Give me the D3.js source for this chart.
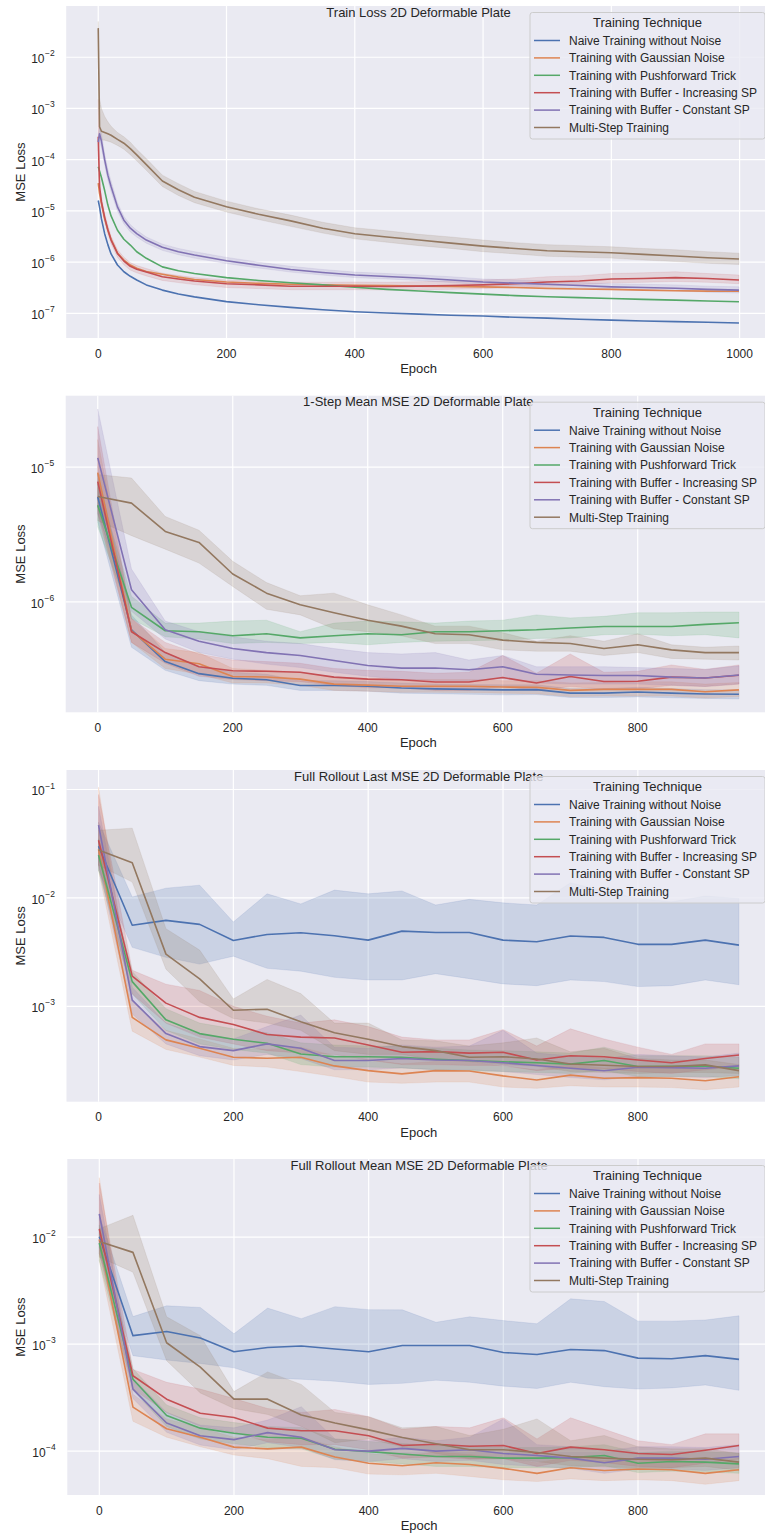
<!DOCTYPE html>
<html>
<head>
<meta charset="utf-8">
<script src="https://cdn.jsdelivr.net/npm/d3@7"></script>
<style>
body { margin: 0; background: #ffffff; overflow: hidden; }
text { font-family: "Liberation Sans", Arial, sans-serif; fill: #262626; }
</style>
</head>
<body>
<div id="chart"></div>
<script>
// legend entries and seaborn "deep" colours
var techniques = ["Naive Training without Noise", "Training with Gaussian Noise", "Training with Pushforward Trick",
    "Training with Buffer - Increasing SP", "Training with Buffer - Constant SP", "Multi-Step Training"];
var colours = ["#4c72b0", "#dd8452", "#55a868", "#c44e52", "#8172b3", "#937860"];

// ---- panel 1 : train loss ----
var trainEpochs = [0, 2, 5, 10, 15, 20, 30, 40, 50, 60, 75, 100, 125, 150, 200, 250, 300, 350, 400, 450, 500, 550, 600, 650, 700, 750, 800, 850, 900, 950, 999];
var trainLoss = [
    [1.6e-5, 1.2e-5, 7e-6, 3.6e-6, 2.2e-6, 1.45e-6, 8.8e-7, 6.5e-7, 5.3e-7, 4.5e-7, 3.6e-7, 2.85e-7, 2.4e-7, 2.1e-7, 1.7e-7, 1.48e-7, 1.31e-7, 1.18e-7, 1.08e-7, 1.02e-7, 9.7e-8, 9.2e-8, 8.9e-8, 8.4e-8, 8.1e-8, 7.7e-8, 7.4e-8, 7.1e-8, 6.9e-8, 6.7e-8, 6.5e-8],
    [3.5e-5, 2.2e-5, 1.4e-5, 7e-6, 4.2e-6, 2.8e-6, 1.5e-6, 1.1e-6, 8.8e-7, 7.6e-7, 6.6e-7, 5.8e-7, 5.1e-7, 4.6e-7, 4.1e-7, 3.85e-7, 3.7e-7, 3.62e-7, 3.55e-7, 3.5e-7, 3.41e-7, 3.35e-7, 3.3e-7, 3.2e-7, 3.08e-7, 3.0e-7, 2.94e-7, 2.85e-7, 2.77e-7, 2.72e-7, 2.7e-7],
    [7.3e-5, 6e-5, 4.5e-5, 2.5e-5, 1.3e-5, 8e-6, 4.2e-6, 2.8e-6, 2.16e-6, 1.6e-6, 1.19e-6, 8.1e-7, 6.8e-7, 6.0e-7, 5.0e-7, 4.4e-7, 3.96e-7, 3.6e-7, 3.25e-7, 2.95e-7, 2.73e-7, 2.55e-7, 2.38e-7, 2.22e-7, 2.11e-7, 2.03e-7, 1.96e-7, 1.88e-7, 1.82e-7, 1.75e-7, 1.69e-7],
    [2.8e-4, 3e-5, 1.5e-5, 7.5e-6, 4.3e-6, 2.7e-6, 1.48e-6, 1.05e-6, 8.3e-7, 7.3e-7, 6.4e-7, 5.2e-7, 4.7e-7, 4.3e-7, 3.8e-7, 3.6e-7, 3.4e-7, 3.4e-7, 3.4e-7, 3.35e-7, 3.41e-7, 3.5e-7, 3.6e-7, 3.8e-7, 4.1e-7, 4.3e-7, 4.7e-7, 4.8e-7, 5.0e-7, 4.8e-7, 4.5e-7],
    [2.2e-4, 3.2e-4, 2.3e-4, 1.0e-4, 5e-5, 3.0e-5, 1.2e-5, 6.6e-6, 4.6e-6, 3.6e-6, 2.7e-6, 1.95e-6, 1.6e-6, 1.38e-6, 1.07e-6, 8.7e-7, 7.2e-7, 6.3e-7, 5.6e-7, 5.25e-7, 4.9e-7, 4.5e-7, 4.1e-7, 3.9e-7, 3.7e-7, 3.5e-7, 3.3e-7, 3.2e-7, 3.1e-7, 2.95e-7, 2.85e-7],
    [3.7e-2, 4.4e-4, 3.6e-4, 3.4e-4, 3.2e-4, 3.0e-4, 2.5e-4, 2.1e-4, 1.65e-4, 1.24e-4, 8e-5, 3.84e-5, 2.6e-5, 1.85e-5, 1.21e-5, 8.6e-6, 6.4e-6, 4.6e-6, 3.6e-6, 3.1e-6, 2.7e-6, 2.35e-6, 2.06e-6, 1.85e-6, 1.67e-6, 1.6e-6, 1.53e-6, 1.42e-6, 1.32e-6, 1.22e-6, 1.15e-6]
];
// pale spread of the noisier runs
var trainRedLow = [1.0e-4, 2.2e-5, 1.2e-5, 6.2e-6, 3.6e-6, 2.3e-6, 1.25e-6, 8.9e-7, 7.0e-7, 6.2e-7, 5.4e-7, 4.4e-7, 4.0e-7, 3.65e-7, 3.2e-7, 3.05e-7, 2.9e-7, 2.9e-7, 2.9e-7, 2.85e-7, 2.9e-7, 2.95e-7, 3.05e-7, 3.2e-7, 3.45e-7, 3.65e-7, 3.95e-7, 4.05e-7, 4.2e-7, 4.05e-7, 3.8e-7];
var trainRedHigh = [1.5e-3, 4.5e-5, 1.9e-5, 9e-6, 5.2e-6, 3.2e-6, 1.75e-6, 1.25e-6, 9.8e-7, 8.6e-7, 7.5e-7, 6.1e-7, 5.5e-7, 5.0e-7, 4.5e-7, 4.3e-7, 4.05e-7, 4.05e-7, 4.1e-7, 4.05e-7, 4.15e-7, 4.3e-7, 4.5e-7, 4.7e-7, 5.2e-7, 5.4e-7, 6.0e-7, 6.2e-7, 6.5e-7, 6.0e-7, 5.6e-7];
var trainPurpleLow = [1.5e-4, 2.4e-4, 1.7e-4, 8e-5, 4e-5, 2.4e-5, 1.0e-5, 5.6e-6, 3.9e-6, 3.1e-6, 2.35e-6, 1.7e-6, 1.4e-6, 1.2e-6, 9.4e-7, 7.7e-7, 6.4e-7, 5.6e-7, 5.0e-7, 4.7e-7, 4.4e-7, 4.0e-7, 3.65e-7, 3.45e-7, 3.3e-7, 3.1e-7, 2.95e-7, 2.85e-7, 2.75e-7, 2.6e-7, 2.5e-7];
var trainPurpleHigh = [3.2e-4, 4.5e-4, 3.2e-4, 1.3e-4, 6.5e-5, 3.8e-5, 1.45e-5, 7.8e-6, 5.4e-6, 4.2e-6, 3.1e-6, 2.25e-6, 1.85e-6, 1.6e-6, 1.24e-6, 1.0e-6, 8.3e-7, 7.2e-7, 6.4e-7, 6.0e-7, 5.6e-7, 5.2e-7, 4.7e-7, 4.5e-7, 4.3e-7, 4.0e-7, 3.8e-7, 3.7e-7, 3.6e-7, 3.4e-7, 3.3e-7];
var trainBrownLow = [1.5e-2, 2.5e-4, 2.4e-4, 2.4e-4, 2.3e-4, 2.2e-4, 1.9e-4, 1.6e-4, 1.25e-4, 9.5e-5, 6.2e-5, 3.0e-5, 2.0e-5, 1.45e-5, 9.5e-6, 6.8e-6, 5.0e-6, 3.7e-6, 2.85e-6, 2.45e-6, 2.1e-6, 1.85e-6, 1.6e-6, 1.45e-6, 1.3e-6, 1.25e-6, 1.2e-6, 1.1e-6, 1.03e-6, 0.95e-6, 0.9e-6];
var trainBrownHigh = [5.0e-2, 1.6e-3, 1.0e-3, 7e-4, 5.5e-4, 4.5e-4, 3.4e-4, 2.8e-4, 2.2e-4, 1.6e-4, 1.05e-4, 5.0e-5, 3.4e-5, 2.4e-5, 1.55e-5, 1.1e-5, 8.3e-6, 6.0e-6, 4.7e-6, 4.1e-6, 3.5e-6, 3.1e-6, 2.7e-6, 2.4e-6, 2.2e-6, 2.1e-6, 2.0e-6, 1.85e-6, 1.75e-6, 1.6e-6, 1.5e-6];

// ---- panels 2-4 : evaluation every 50 epochs ----
var evalEpochs = [0, 50, 100, 150, 200, 250, 300, 350, 400, 450, 500, 550, 600, 650, 700, 750, 800, 850, 900, 950];

var stepMean = [
    [6.0e-6, 6.2e-7, 3.6e-7, 2.93e-7, 2.71e-7, 2.64e-7, 2.39e-7, 2.39e-7, 2.36e-7, 2.29e-7, 2.26e-7, 2.24e-7, 2.22e-7, 2.23e-7, 2.1e-7, 2.1e-7, 2.14e-7, 2.1e-7, 2.07e-7, 2.06e-7],
    [9.1e-6, 6.1e-7, 3.75e-7, 3.47e-7, 2.79e-7, 2.77e-7, 2.67e-7, 2.45e-7, 2.41e-7, 2.36e-7, 2.36e-7, 2.36e-7, 2.33e-7, 2.32e-7, 2.2e-7, 2.24e-7, 2.24e-7, 2.24e-7, 2.15e-7, 2.22e-7],
    [5.2e-6, 9.1e-7, 6.1e-7, 6.0e-7, 5.6e-7, 5.8e-7, 5.4e-7, 5.6e-7, 5.8e-7, 5.7e-7, 6.0e-7, 6.0e-7, 6.1e-7, 6.2e-7, 6.4e-7, 6.56e-7, 6.56e-7, 6.56e-7, 6.8e-7, 7.0e-7],
    [7.8e-6, 6.0e-7, 4.2e-7, 3.3e-7, 3.08e-7, 3.05e-7, 3.0e-7, 2.76e-7, 2.67e-7, 2.64e-7, 2.54e-7, 2.54e-7, 2.74e-7, 2.5e-7, 2.79e-7, 2.56e-7, 2.57e-7, 2.76e-7, 2.72e-7, 2.85e-7],
    [1.17e-5, 1.23e-6, 6.2e-7, 5.1e-7, 4.5e-7, 4.2e-7, 4.0e-7, 3.67e-7, 3.37e-7, 3.22e-7, 3.23e-7, 3.13e-7, 3.3e-7, 2.9e-7, 2.86e-7, 2.84e-7, 2.84e-7, 2.76e-7, 2.72e-7, 2.86e-7],
    [6.05e-6, 5.4e-6, 3.33e-6, 2.76e-6, 1.61e-6, 1.16e-6, 9.5e-7, 8.3e-7, 7.3e-7, 6.6e-7, 5.8e-7, 5.7e-7, 5.2e-7, 5.0e-7, 4.9e-7, 4.5e-7, 4.8e-7, 4.4e-7, 4.2e-7, 4.2e-7]
];
var stepLow = [
    [3.9e-6, 4.6e-7, 3.1e-7, 2.6e-7, 2.45e-7, 2.4e-7, 2.2e-7, 2.2e-7, 2.17e-7, 2.1e-7, 2.08e-7, 2.06e-7, 2.04e-7, 2.05e-7, 1.95e-7, 1.95e-7, 1.97e-7, 1.94e-7, 1.92e-7, 1.9e-7],
    [5.0e-6, 5.0e-7, 3.2e-7, 2.9e-7, 2.5e-7, 2.5e-7, 2.4e-7, 2.2e-7, 2.17e-7, 2.13e-7, 2.13e-7, 2.12e-7, 2.1e-7, 2.08e-7, 1.98e-7, 2.0e-7, 2.0e-7, 2.0e-7, 1.93e-7, 1.98e-7],
    [3.6e-6, 7.5e-7, 5.5e-7, 5.3e-7, 4.9e-7, 5.0e-7, 4.9e-7, 5.0e-7, 4.8e-7, 5.0e-7, 5.1e-7, 5.15e-7, 5.2e-7, 5.35e-7, 5.4e-7, 5.7e-7, 5.75e-7, 5.6e-7, 5.7e-7, 5.4e-7],
    [4.5e-6, 5.0e-7, 3.5e-7, 2.8e-7, 2.65e-7, 2.6e-7, 2.55e-7, 2.4e-7, 2.3e-7, 2.3e-7, 2.2e-7, 2.2e-7, 2.35e-7, 2.2e-7, 2.35e-7, 2.25e-7, 2.25e-7, 2.4e-7, 2.35e-7, 2.45e-7],
    [4.5e-6, 8.5e-7, 5.3e-7, 4.2e-7, 3.75e-7, 3.45e-7, 3.25e-7, 3.0e-7, 2.8e-7, 2.65e-7, 2.6e-7, 2.6e-7, 2.7e-7, 2.5e-7, 2.45e-7, 2.45e-7, 2.45e-7, 2.4e-7, 2.35e-7, 2.45e-7],
    [4.0e-6, 3.1e-6, 2.46e-6, 1.94e-6, 1.3e-6, 8.8e-7, 8.0e-7, 6.3e-7, 6.0e-7, 5.6e-7, 4.9e-7, 4.9e-7, 4.4e-7, 4.3e-7, 4.3e-7, 4.0e-7, 4.2e-7, 3.8e-7, 3.75e-7, 3.7e-7]
];
var stepHigh = [
    [9.0e-6, 8.0e-7, 4.2e-7, 3.3e-7, 3.0e-7, 2.9e-7, 2.6e-7, 2.6e-7, 2.56e-7, 2.5e-7, 2.45e-7, 2.43e-7, 2.42e-7, 2.42e-7, 2.27e-7, 2.27e-7, 2.32e-7, 2.27e-7, 2.23e-7, 2.22e-7],
    [1.6e-5, 7.5e-7, 4.5e-7, 4.2e-7, 3.2e-7, 3.1e-7, 3.0e-7, 2.75e-7, 2.7e-7, 2.65e-7, 2.65e-7, 2.65e-7, 2.6e-7, 2.6e-7, 2.5e-7, 2.52e-7, 2.55e-7, 2.55e-7, 2.45e-7, 2.52e-7],
    [7.5e-6, 1.1e-6, 6.95e-7, 6.95e-7, 7.2e-7, 7.3e-7, 6.0e-7, 6.95e-7, 7.2e-7, 7.1e-7, 6.95e-7, 7.2e-7, 7.3e-7, 8.0e-7, 7.6e-7, 7.8e-7, 8.3e-7, 8.3e-7, 8.4e-7, 8.4e-7],
    [2.0e-5, 7.5e-7, 5.0e-7, 4.1e-7, 3.7e-7, 3.6e-7, 3.5e-7, 3.2e-7, 3.1e-7, 3.05e-7, 2.95e-7, 3.0e-7, 4.0e-7, 2.95e-7, 4.1e-7, 3.0e-7, 3.05e-7, 3.4e-7, 3.15e-7, 3.4e-7],
    [2.7e-5, 1.75e-6, 7.2e-7, 6.0e-7, 5.5e-7, 5.1e-7, 4.9e-7, 4.5e-7, 4.2e-7, 4.1e-7, 4.2e-7, 3.7e-7, 4.0e-7, 3.3e-7, 3.3e-7, 3.3e-7, 3.25e-7, 3.2e-7, 3.15e-7, 3.35e-7],
    [8.8e-6, 8.3e-6, 4.3e-6, 3.4e-6, 2.0e-6, 1.39e-6, 1.11e-6, 1.16e-6, 9.5e-7, 8.0e-7, 6.6e-7, 6.6e-7, 5.9e-7, 5.1e-7, 5.6e-7, 5.1e-7, 5.8e-7, 4.8e-7, 4.6e-7, 4.7e-7]
];

var lastMean = [
    [0.03, 5.6e-3, 6.2e-3, 5.7e-3, 4.05e-3, 4.6e-3, 4.77e-3, 4.48e-3, 4.08e-3, 4.94e-3, 4.8e-3, 4.8e-3, 4.08e-3, 3.94e-3, 4.45e-3, 4.32e-3, 3.73e-3, 3.73e-3, 4.08e-3, 3.67e-3],
    [0.028, 7.9e-4, 4.9e-4, 4.1e-4, 3.39e-4, 3.32e-4, 3.39e-4, 2.82e-4, 2.55e-4, 2.38e-4, 2.55e-4, 2.53e-4, 2.28e-4, 2.09e-4, 2.32e-4, 2.17e-4, 2.2e-4, 2.17e-4, 2.06e-4, 2.24e-4],
    [0.0248, 1.69e-3, 7.5e-4, 5.6e-4, 4.96e-4, 4.56e-4, 3.63e-4, 3.43e-4, 3.43e-4, 3.39e-4, 3.25e-4, 3.16e-4, 3.08e-4, 3.02e-4, 2.93e-4, 3.16e-4, 2.78e-4, 2.8e-4, 2.8e-4, 2.68e-4],
    [0.034, 1.9e-3, 1.07e-3, 7.9e-4, 6.8e-4, 5.5e-4, 5.2e-4, 5.1e-4, 4.4e-4, 3.77e-4, 3.82e-4, 3.7e-4, 3.77e-4, 3.2e-4, 3.5e-4, 3.43e-4, 3.2e-4, 3.02e-4, 3.3e-4, 3.56e-4],
    [0.047, 1.14e-3, 5.6e-4, 4.25e-4, 3.9e-4, 4.5e-4, 4.1e-4, 3.16e-4, 3.16e-4, 3.3e-4, 3.2e-4, 3.16e-4, 3.02e-4, 2.84e-4, 2.68e-4, 2.54e-4, 2.74e-4, 2.72e-4, 2.68e-4, 2.82e-4],
    [0.0277, 0.0211, 3.03e-3, 1.79e-3, 9.2e-4, 9.4e-4, 7.2e-4, 5.7e-4, 4.96e-4, 4.25e-4, 3.9e-4, 3.39e-4, 3.43e-4, 3.27e-4, 2.94e-4, 2.86e-4, 2.78e-4, 2.78e-4, 2.88e-4, 2.55e-4]
];
var lastLow = [
    [0.018, 3.5e-3, 2.83e-3, 2.45e-3, 2.9e-3, 2.24e-3, 2.11e-3, 1.85e-3, 1.75e-3, 1.75e-3, 2.0e-3, 1.8e-3, 1.61e-3, 1.55e-3, 1.75e-3, 1.69e-3, 1.52e-3, 1.55e-3, 1.75e-3, 1.58e-3],
    [0.018, 5.9e-4, 4.0e-4, 3.4e-4, 2.85e-4, 2.75e-4, 2.5e-4, 2.25e-4, 2.0e-4, 1.95e-4, 2.0e-4, 2.0e-4, 1.8e-4, 1.75e-4, 1.85e-4, 1.8e-4, 1.8e-4, 1.78e-4, 1.7e-4, 1.8e-4],
    [0.018, 1.3e-3, 6.0e-4, 4.5e-4, 4.0e-4, 3.7e-4, 2.9e-4, 2.75e-4, 2.75e-4, 2.7e-4, 2.6e-4, 2.55e-4, 2.5e-4, 2.45e-4, 2.4e-4, 2.55e-4, 2.25e-4, 2.25e-4, 2.25e-4, 2.15e-4],
    [0.02, 1.3e-3, 7.0e-4, 5.2e-4, 4.5e-4, 3.9e-4, 3.7e-4, 3.6e-4, 3.2e-4, 2.9e-4, 2.9e-4, 2.85e-4, 2.85e-4, 2.55e-4, 2.7e-4, 2.65e-4, 2.5e-4, 2.4e-4, 2.6e-4, 2.8e-4],
    [0.02, 8.5e-4, 4.5e-4, 3.5e-4, 3.2e-4, 3.6e-4, 3.3e-4, 2.6e-4, 2.6e-4, 2.7e-4, 2.6e-4, 2.6e-4, 2.5e-4, 2.35e-4, 2.2e-4, 2.1e-4, 2.25e-4, 2.25e-4, 2.2e-4, 2.3e-4],
    [0.02, 0.014, 2.2e-3, 1.1e-3, 7.7e-4, 7.0e-4, 6.0e-4, 3.9e-4, 3.6e-4, 3.6e-4, 3.2e-4, 3.1e-4, 2.9e-4, 2.8e-4, 2.5e-4, 2.45e-4, 2.4e-4, 2.45e-4, 2.45e-4, 2.4e-4]
];
var lastHigh = [
    [0.05, 0.0102, 0.0123, 0.0131, 6.0e-3, 0.0109, 8.8e-3, 0.0118, 0.0109, 0.0116, 8.6e-3, 9.7e-3, 9.0e-3, 8.6e-3, 0.0138, 0.0116, 9.9e-3, 9.2e-3, 0.0104, 9.9e-3],
    [0.105, 1.1e-3, 6.0e-4, 5.0e-4, 4.1e-4, 4.0e-4, 4.2e-4, 3.5e-4, 3.2e-4, 2.95e-4, 3.1e-4, 3.1e-4, 2.8e-4, 2.6e-4, 2.9e-4, 2.7e-4, 2.75e-4, 2.7e-4, 2.6e-4, 2.8e-4],
    [0.035, 2.1e-3, 9.5e-4, 7.0e-4, 6.2e-4, 5.7e-4, 4.6e-4, 4.4e-4, 4.3e-4, 4.3e-4, 4.1e-4, 3.95e-4, 3.9e-4, 3.8e-4, 3.7e-4, 4.2e-4, 3.5e-4, 3.5e-4, 3.5e-4, 3.4e-4],
    [0.09, 2.15e-3, 1.6e-3, 1.4e-3, 1.0e-3, 8.1e-4, 7.0e-4, 7.5e-4, 6.5e-4, 5.2e-4, 4.9e-4, 4.9e-4, 6.1e-4, 4.3e-4, 6.2e-4, 5.0e-4, 4.2e-4, 3.6e-4, 4.5e-4, 4.5e-4],
    [0.07, 1.5e-3, 7.0e-4, 5.5e-4, 5.0e-4, 6.5e-4, 8.3e-4, 4.2e-4, 4.1e-4, 4.4e-4, 4.2e-4, 4.3e-4, 6.0e-4, 3.7e-4, 3.5e-4, 3.3e-4, 3.6e-4, 3.5e-4, 3.4e-4, 3.7e-4],
    [0.042, 0.044, 5.2e-3, 3.3e-3, 1.17e-3, 1.77e-3, 1.31e-3, 7.0e-4, 7.0e-4, 4.9e-4, 4.8e-4, 4.3e-4, 4.6e-4, 5.1e-4, 3.8e-4, 4.1e-4, 3.3e-4, 3.2e-4, 3.2e-4, 2.9e-4]
];

var rollMean = [
    [0.0101, 1.2e-3, 1.31e-3, 1.14e-3, 8.5e-4, 9.3e-4, 9.6e-4, 9.0e-4, 8.5e-4, 9.7e-4, 9.7e-4, 9.7e-4, 8.35e-4, 8.0e-4, 8.9e-4, 8.7e-4, 7.4e-4, 7.3e-4, 7.8e-4, 7.2e-4],
    [0.0095, 2.58e-4, 1.62e-4, 1.35e-4, 1.09e-4, 1.05e-4, 1.09e-4, 8.8e-5, 7.7e-5, 7.3e-5, 7.8e-5, 7.5e-5, 6.9e-5, 6.2e-5, 7.0e-5, 6.6e-5, 6.8e-5, 6.7e-5, 6.2e-5, 6.7e-5],
    [0.0088, 4.7e-4, 2.15e-4, 1.64e-4, 1.47e-4, 1.35e-4, 1.32e-4, 1.04e-4, 9.9e-5, 9.4e-5, 8.9e-5, 8.9e-5, 8.6e-5, 8.6e-5, 8.7e-5, 9.1e-5, 7.7e-5, 8.0e-5, 7.9e-5, 7.6e-5],
    [0.0119, 5.06e-4, 3.06e-4, 2.26e-4, 2.06e-4, 1.64e-4, 1.55e-4, 1.55e-4, 1.39e-4, 1.13e-4, 1.16e-4, 1.11e-4, 1.13e-4, 9.5e-5, 1.09e-4, 1.03e-4, 9.5e-5, 9.3e-5, 1.02e-4, 1.13e-4],
    [0.0165, 3.8e-4, 1.83e-4, 1.39e-4, 1.28e-4, 1.49e-4, 1.35e-4, 1.03e-4, 1.0e-4, 1.06e-4, 1.0e-4, 1.03e-4, 9.5e-5, 9.1e-5, 8.6e-5, 7.8e-5, 8.6e-5, 8.6e-5, 8.4e-5, 8.9e-5],
    [0.0091, 7.2e-3, 1.03e-3, 6.1e-4, 3.06e-4, 3.06e-4, 2.18e-4, 1.83e-4, 1.58e-4, 1.34e-4, 1.17e-4, 1.03e-4, 1.03e-4, 9.7e-5, 8.9e-5, 8.6e-5, 8.4e-5, 8.3e-5, 8.6e-5, 7.9e-5]
];
var rollLow = [
    [0.007, 7.8e-4, 7.1e-4, 6.6e-4, 6.0e-4, 4.8e-4, 4.7e-4, 4.5e-4, 4.2e-4, 4.3e-4, 4.6e-4, 4.4e-4, 4.05e-4, 3.85e-4, 4.4e-4, 4.0e-4, 3.8e-4, 3.9e-4, 4.15e-4, 3.7e-4],
    [0.006, 1.9e-4, 1.35e-4, 1.1e-4, 9.2e-5, 8.5e-5, 7.2e-5, 7.0e-5, 6.1e-5, 6.0e-5, 6.2e-5, 5.8e-5, 5.4e-5, 5.2e-5, 5.5e-5, 5.3e-5, 5.4e-5, 5.3e-5, 4.9e-5, 5.3e-5],
    [0.006, 3.7e-4, 1.7e-4, 1.3e-4, 1.17e-4, 1.08e-4, 1.05e-4, 8.4e-5, 8.0e-5, 7.6e-5, 7.2e-5, 7.2e-5, 7.0e-5, 7.0e-5, 7.0e-5, 7.3e-5, 6.3e-5, 6.5e-5, 6.4e-5, 6.2e-5],
    [0.007, 3.8e-4, 2.3e-4, 1.7e-4, 1.5e-4, 1.22e-4, 1.15e-4, 1.15e-4, 1.03e-4, 8.6e-5, 8.8e-5, 8.4e-5, 8.5e-5, 7.2e-5, 8.2e-5, 7.8e-5, 7.2e-5, 7.0e-5, 7.7e-5, 8.5e-5],
    [0.008, 3.1e-4, 1.5e-4, 1.14e-4, 1.03e-4, 1.2e-4, 1.08e-4, 8.3e-5, 8.0e-5, 8.5e-5, 8.0e-5, 8.2e-5, 7.5e-5, 7.2e-5, 6.9e-5, 6.2e-5, 6.8e-5, 6.8e-5, 6.6e-5, 7.0e-5],
    [0.0065, 4.7e-3, 7.0e-4, 3.5e-4, 2.5e-4, 2.2e-4, 1.7e-4, 1.2e-4, 1.3e-4, 1.1e-4, 9.5e-5, 8.5e-5, 8.5e-5, 8.0e-5, 7.3e-5, 7.1e-5, 7.0e-5, 7.0e-5, 7.2e-5, 6.6e-5]
];
var rollHigh = [
    [0.016, 1.81e-3, 2.28e-3, 2.2e-3, 1.25e-3, 2.17e-3, 1.73e-3, 2.24e-3, 2.1e-3, 2.09e-3, 1.6e-3, 1.8e-3, 1.66e-3, 1.55e-3, 2.65e-3, 2.5e-3, 1.64e-3, 1.64e-3, 1.68e-3, 1.84e-3],
    [0.036, 3.4e-4, 2.0e-4, 1.65e-4, 1.35e-4, 1.28e-4, 1.35e-4, 1.1e-4, 9.5e-5, 9.0e-5, 9.8e-5, 9.3e-5, 8.6e-5, 7.8e-5, 8.8e-5, 8.2e-5, 8.5e-5, 8.4e-5, 7.8e-5, 8.5e-5],
    [0.013, 5.9e-4, 2.7e-4, 2.05e-4, 1.85e-4, 1.7e-4, 1.66e-4, 1.3e-4, 1.23e-4, 1.18e-4, 1.12e-4, 1.12e-4, 1.08e-4, 1.08e-4, 1.1e-4, 1.15e-4, 9.7e-5, 1.0e-4, 9.9e-5, 9.6e-5],
    [0.032, 5.8e-4, 4.4e-4, 3.8e-4, 3.1e-4, 2.5e-4, 2.3e-4, 2.45e-4, 2.1e-4, 1.6e-4, 1.7e-4, 1.65e-4, 2.05e-4, 1.3e-4, 2.05e-4, 1.6e-4, 1.25e-4, 1.15e-4, 1.45e-4, 1.45e-4],
    [0.025, 4.8e-4, 2.3e-4, 1.75e-4, 1.65e-4, 1.95e-4, 2.6e-4, 1.3e-4, 1.25e-4, 1.35e-4, 1.25e-4, 1.35e-4, 2.0e-4, 1.15e-4, 1.1e-4, 1.0e-4, 1.1e-4, 1.1e-4, 1.08e-4, 1.15e-4],
    [0.012, 0.016, 1.8e-3, 1.2e-3, 3.6e-4, 5.5e-4, 4.2e-4, 2.3e-4, 2.1e-4, 1.65e-4, 1.7e-4, 1.4e-4, 1.6e-4, 2.0e-4, 1.25e-4, 1.4e-4, 1.1e-4, 1.05e-4, 1.05e-4, 9.5e-5]
];

var trainTicks = [0, 200, 400, 600, 800, 1000];
var evalTicks = [0, 200, 400, 600, 800];

var panels = [
    { id: 1, title: "Train Loss 2D Deformable Plate", top: 6, bottom: 338, left: 66.2, right: 771,
      xDomain: [-49.95, 1048.95], yExp: [-7.48, -1.0], decades: [-7, -6, -5, -4, -3, -2], xTicks: trainTicks,
      epochs: trainEpochs, mean: trainLoss,
      bands: [{ index: 3, low: trainRedLow, high: trainRedHigh, alpha: 0.15 },
              { index: 4, low: trainPurpleLow, high: trainPurpleHigh, alpha: 0.15 },
              { index: 5, low: trainBrownLow, high: trainBrownHigh, alpha: 0.2 }] },
    { id: 2, title: "1-Step Mean MSE 2D Deformable Plate", top: 395.7, bottom: 712.3, left: 65.7, right: 771,
      xDomain: [-47.5, 997.5], yExp: [-6.82, -4.47], decades: [-6, -5], xTicks: evalTicks,
      epochs: evalEpochs, mean: stepMean, low: stepLow, high: stepHigh },
    { id: 3, title: "Full Rollout Last MSE 2D Deformable Plate", top: 770, bottom: 1101.7, left: 66.5, right: 771,
      xDomain: [-47.5, 997.5], yExp: [-3.88, -0.82], decades: [-3, -2, -1], xTicks: evalTicks,
      epochs: evalEpochs, mean: lastMean, low: lastLow, high: lastHigh },
    { id: 4, title: "Full Rollout Mean MSE 2D Deformable Plate", top: 1159, bottom: 1495, left: 67.3, right: 771,
      xDomain: [-47.5, 997.5], yExp: [-4.41, -1.27], decades: [-4, -3, -2], xTicks: evalTicks,
      epochs: evalEpochs, mean: rollMean, low: rollLow, high: rollHigh }
];

var svg = d3.select("#chart").append("svg")
        .attr("width", 765)
        .attr("height", 1537);

panels.forEach(function(p){ drawPanel(p); });

function drawPanel(p){
    var x = d3.scaleLinear().domain(p.xDomain).range([p.left, p.right]);
    var y = d3.scaleLog()
            .domain([Math.pow(10, p.yExp[0]), Math.pow(10, p.yExp[1])])
            .range([p.bottom, p.top]);

    svg.append("clipPath").attr("id", "clip" + p.id)
        .append("rect")
        .attr("x", p.left).attr("y", p.top)
        .attr("width", p.right - p.left).attr("height", p.bottom - p.top);

    svg.append("rect")
        .attr("x", p.left).attr("y", p.top)
        .attr("width", p.right - p.left).attr("height", p.bottom - p.top)
        .attr("fill", "#eaeaf2");

    // grid
    svg.append("g").selectAll("line.vx")
        .data(p.xTicks).enter().append("line")
        .attr("x1", function(d){ return x(d); }).attr("x2", function(d){ return x(d); })
        .attr("y1", p.top).attr("y2", p.bottom)
        .attr("stroke", "#ffffff").attr("stroke-width", 1.2);
    svg.append("g").selectAll("line.hy")
        .data(p.decades).enter().append("line")
        .attr("x1", p.left).attr("x2", p.right)
        .attr("y1", function(d){ return y(Math.pow(10, d)); })
        .attr("y2", function(d){ return y(Math.pow(10, d)); })
        .attr("stroke", "#ffffff").attr("stroke-width", 1.2);

    var plot = svg.append("g").attr("clip-path", "url(#clip" + p.id + ")");

    // bands first, then lines on top (matplotlib z-order)
    var bands = p.bands || p.mean.map(function(m, i){ return { index: i, low: p.low[i], high: p.high[i], alpha: 0.2 }; });
    bands.forEach(function(b){
        var area = d3.area()
                .x(function(d, i){ return x(p.epochs[i]); })
                .y0(function(d, i){ return y(b.low[i]); })
                .y1(function(d, i){ return y(b.high[i]); });
        plot.append("path")
            .attr("d", area(b.low))
            .attr("fill", colours[b.index])
            .attr("fill-opacity", b.alpha)
            .attr("stroke", colours[b.index])
            .attr("stroke-opacity", 0.15)
            .attr("stroke-width", 0.8);
    });

    var line = d3.line()
            .x(function(d, i){ return x(p.epochs[i]); })
            .y(function(d){ return y(d); });
    p.mean.forEach(function(series, i){
        plot.append("path")
            .attr("d", line(series))
            .attr("fill", "none")
            .attr("stroke", colours[i])
            .attr("stroke-width", 1.6)
            .attr("stroke-linejoin", "round");
    });

    // x tick labels
    svg.append("g").selectAll("text")
        .data(p.xTicks).enter().append("text")
        .attr("x", function(d){ return x(d); })
        .attr("y", p.bottom + 19.5)
        .attr("text-anchor", "middle")
        .attr("font-size", 12)
        .text(function(d){ return d; });

    // y tick labels 10^n
    var yl = svg.append("g").selectAll("text")
        .data(p.decades).enter().append("text")
        .attr("x", p.left - 11.5)
        .attr("y", function(d){ return y(Math.pow(10, d)) + 5.8; })
        .attr("text-anchor", "end")
        .attr("font-size", 12);
    yl.append("tspan").text("10");
    yl.append("tspan")
        .attr("dy", -6.8)
        .attr("dx", 0.5)
        .attr("font-size", 8.5)
        .text(function(d){ return "\u2212" + Math.abs(d); });

    svg.append("text")
        .attr("x", (p.left + p.right) / 2)
        .attr("y", p.bottom + 35)
        .attr("text-anchor", "middle")
        .attr("font-size", 13)
        .text("Epoch");

    svg.append("text")
        .attr("transform", "translate(24.5," + ((p.top + p.bottom) / 2) + ") rotate(-90)")
        .attr("text-anchor", "middle")
        .attr("font-size", 13)
        .text("MSE Loss");

    svg.append("text")
        .attr("x", (p.left + p.right) / 2)
        .attr("y", p.top + 10.5)
        .attr("text-anchor", "middle")
        .attr("font-size", 13)
        .text(p.title);

    // legend
    var bw = 235, bh = 126.5;
    var bx = p.right - 6 - bw, by = p.top + 6.5;
    var legend = svg.append("g");
    legend.append("rect")
        .attr("x", bx).attr("y", by)
        .attr("width", bw).attr("height", bh)
        .attr("rx", 2.5)
        .attr("fill", "#eaeaf2").attr("fill-opacity", 0.8)
        .attr("stroke", "#cccccc").attr("stroke-width", 1);
    legend.append("text")
        .attr("x", bx + bw / 2).attr("y", by + 14.7)
        .attr("text-anchor", "middle")
        .attr("font-size", 13)
        .text("Training Technique");
    var item = legend.selectAll("g.item")
        .data(techniques).enter().append("g")
        .attr("transform", function(d, i){ return "translate(" + bx + "," + (by + 28 + i * 17.4) + ")"; });
    item.append("line")
        .attr("x1", 4).attr("x2", 30)
        .attr("stroke", function(d, i){ return colours[i]; })
        .attr("stroke-width", 1.5);
    item.append("text")
        .attr("x", 39).attr("y", 4.3)
        .attr("font-size", 12)
        .text(function(d){ return d; });
}
</script>
</body>
</html>
